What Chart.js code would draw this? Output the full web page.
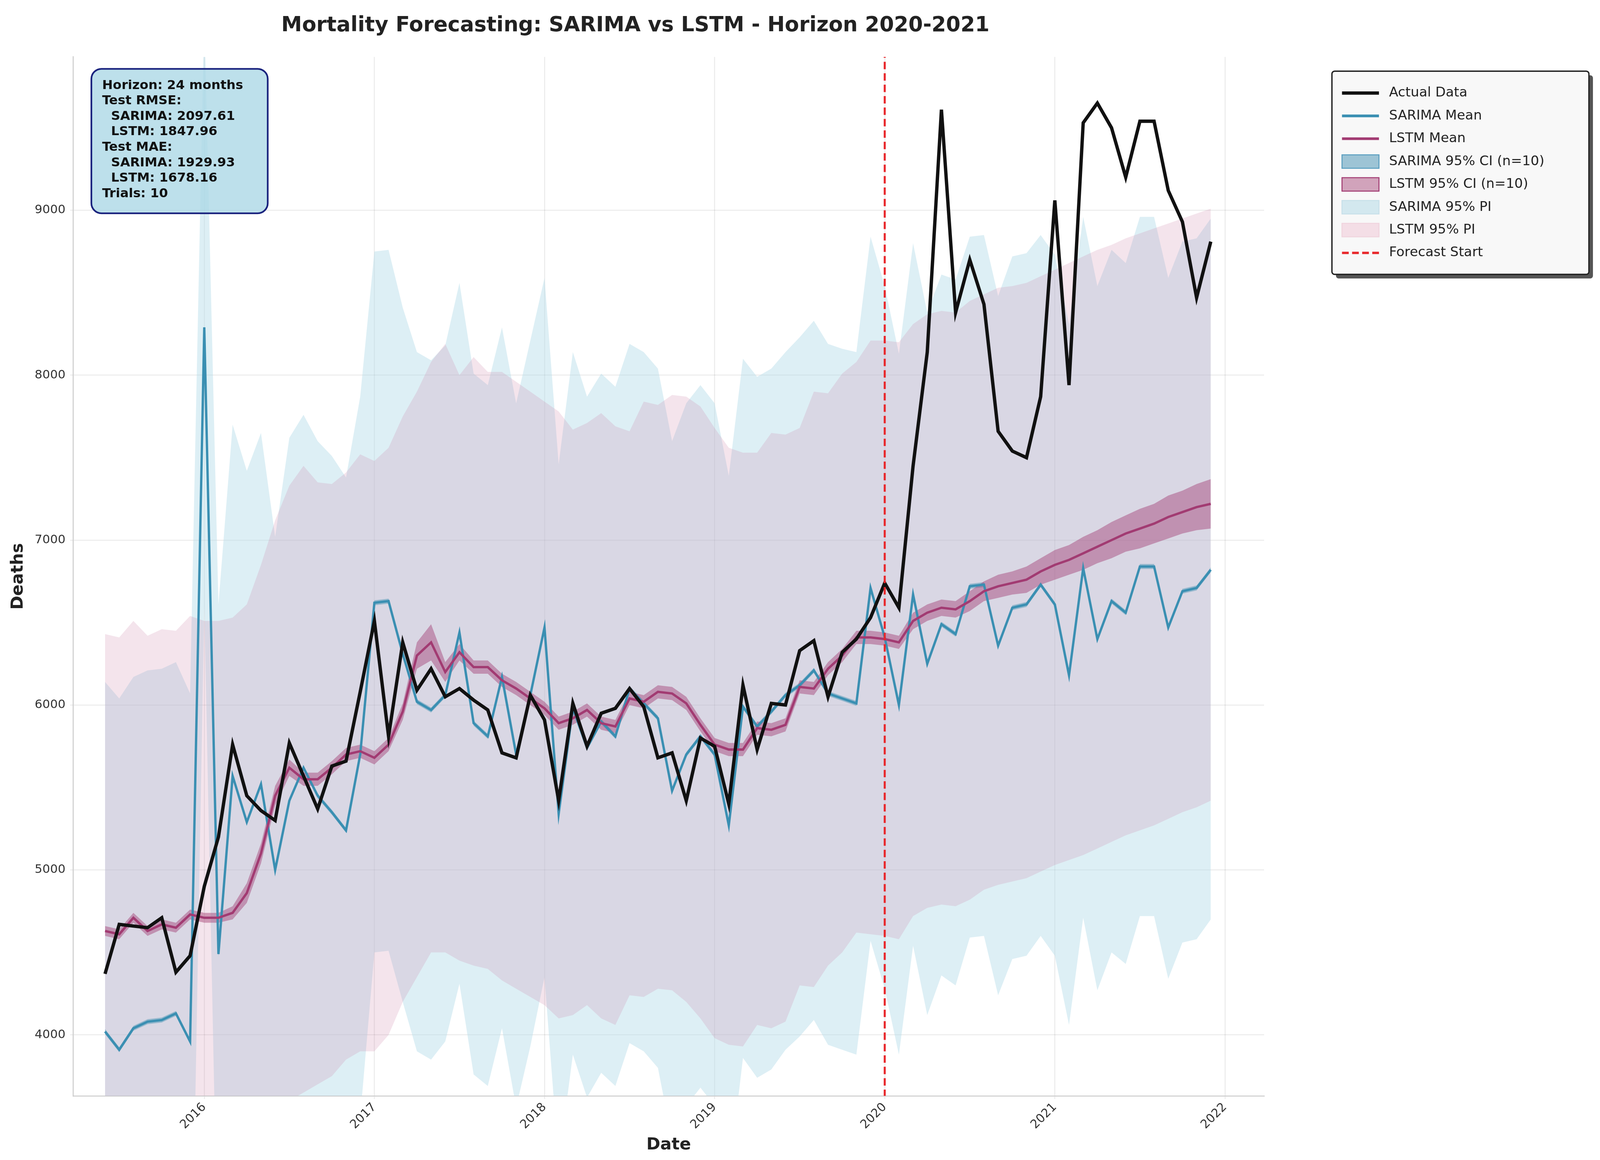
<!DOCTYPE html>
<html><head><meta charset="utf-8">
<script src="https://cdn.jsdelivr.net/npm/chart.js@4"></script>
<style>
html,body{margin:0;padding:0;background:#fff;overflow:hidden;width:100vw;height:100vh;}
canvas{display:block;}
</style></head><body>
<canvas id="c"></canvas>
<script>
const startYear = 2015, startMonth = 6;
const actual = [4370,4670,4660,4650,4710,4380,4480,
4900,5200,5760,5450,5360,5300,5770,5570,5370,5630,5660,6080,
6510,5810,6380,6090,6220,6050,6100,6030,5970,5710,5680,6060,
5910,5420,6010,5750,5950,5980,6100,5990,5680,5710,5420,5800,
5750,5400,6120,5730,6010,6000,6330,6390,6050,6320,6400,6530,
6740,6590,7450,8140,9610,8380,8700,8430,7660,7540,7500,7870,
9060,7940,9530,9650,9500,9200,9540,9540,9120,8930,8470,8810];
const sarimaMean = [4020,3910,4040,4080,4090,4130,3960,
8290,4490,5570,5290,5520,5000,5420,5620,5450,5350,5240,5700,
6620,6630,6310,6020,5970,6060,6440,5890,5810,6170,5700,6060,
6470,5340,5980,5740,5900,5810,6100,6010,5920,5480,5700,5810,
5700,5270,5990,5870,5960,6060,6120,6210,6070,6040,6010,6710,
6410,6000,6670,6250,6490,6430,6720,6730,6360,6590,6610,6730,
6610,6180,6830,6400,6630,6560,6840,6840,6470,6690,6710,6820];
const lstmMean = [4630,4610,4710,4630,4670,4650,4730,
4710,4710,4740,4860,5100,5450,5620,5550,5550,5620,5700,5720,
5680,5760,5960,6300,6380,6200,6320,6230,6230,6150,6100,6040,
5980,5890,5920,5970,5890,5870,6040,6020,6080,6070,6010,5880,
5760,5730,5730,5860,5850,5880,6110,6100,6220,6300,6410,6410,
6400,6380,6510,6560,6590,6580,6630,6690,6720,6740,6760,6810,
6850,6880,6920,6960,7000,7040,7070,7100,7140,7170,7200,7220];
const lstmCIHalf = [30,30,30,30,30,30,30,30,30,40,60,60,60,50,40,40,40,40,40,
40,40,50,80,110,60,50,40,40,40,40,40,40,40,40,40,40,40,40,40,40,40,40,40,
40,40,40,40,40,40,40,40,40,40,40,40,40,40,50,50,50,50,60,60,70,70,80,80,
90,90,100,100,110,110,120,120,130,130,140,150];
const sarimaCIHalf = 15;
const sarimaPIUpper = [6140,6040,6170,6210,6220,6260,6070,
10200,6610,7700,7420,7650,7020,7620,7760,7600,7510,7380,7870,
8750,8760,8410,8140,8090,8180,8560,8010,7940,8290,7830,8210,
8590,7460,8140,7870,8010,7930,8190,8140,8040,7600,7830,7940,
7830,7390,8100,7990,8040,8140,8230,8330,8190,8160,8140,8840,
8540,8130,8800,8380,8610,8580,8840,8850,8480,8720,8740,8850,
8730,8310,8960,8540,8760,8680,8960,8960,8590,8810,8830,8950];
const sarimaPILower = [1900,1800,1900,1950,1950,2000,1850,
6600,2400,3500,3200,3400,2900,3300,3500,3300,3200,3100,3500,
4500,4510,4200,3900,3850,3960,4310,3760,3690,4040,3560,3930,
4350,3220,3880,3620,3770,3690,3950,3900,3800,3360,3570,3680,
3570,3130,3860,3740,3790,3910,3990,4090,3940,3910,3880,4570,
4280,3880,4540,4120,4360,4300,4590,4600,4240,4460,4480,4600,
4480,4060,4710,4270,4500,4430,4720,4720,4340,4560,4580,4700];
const lstmPIUpper = [6430,6410,6510,6420,6460,6450,6540,
6510,6510,6530,6610,6850,7120,7330,7450,7350,7340,7410,7520,
7480,7560,7750,7900,8080,8190,8000,8110,8020,8020,7960,7900,
7840,7780,7670,7710,7770,7690,7660,7840,7820,7880,7870,7810,
7680,7560,7530,7530,7650,7640,7680,7900,7890,8010,8080,8210,
8210,8200,8310,8370,8390,8380,8450,8490,8530,8540,8560,8600,
8640,8680,8720,8760,8790,8830,8860,8890,8920,8950,8980,9010];
const lstmPILower = [3600,3500,3450,3450,3500,3400,3300,
2800,2600,2700,2900,3300,3500,3600,3650,3700,3750,3850,3900,
3900,4000,4200,4350,4500,4500,4450,4420,4400,4330,4280,4230,
4180,4100,4120,4180,4100,4060,4240,4230,4280,4270,4200,4100,
3980,3940,3930,4060,4040,4080,4300,4290,4420,4500,4620,4610,
4600,4580,4720,4770,4790,4780,4820,4880,4910,4930,4950,4990,
5030,5060,5090,5130,5170,5210,5240,5270,5310,5350,5380,5420];
const yearTicks = [2016,2017,2018,2019,2020,2021,2022];
const yTicks = [4000,5000,6000,7000,8000,9000];
const forecastStart = 2020.0;
const infoLines = ['Horizon: 24 months','Test RMSE:','  SARIMA: 2097.61','  LSTM: 1847.96','Test MAE:','  SARIMA: 1929.93','  LSTM: 1678.16','Trials: 10'];
const legendItems = [
 {t:'Actual Data', k:'line', c:'#111', w:10},
 {t:'SARIMA Mean', k:'line', c:'#3a8fb2', w:8},
 {t:'LSTM Mean', k:'line', c:'#a23b72', w:8},
 {t:'SARIMA 95% CI (n=10)', k:'box', c:'rgba(46,134,171,0.45)', b:'#5a9fc0'},
 {t:'LSTM 95% CI (n=10)', k:'box', c:'rgba(162,59,114,0.45)', b:'#a23b72'},
 {t:'SARIMA 95% PI', k:'box', c:'rgba(173,216,230,0.5)', b:'#c8e0ea'},
 {t:'LSTM 95% PI', k:'box', c:'rgba(240,200,215,0.55)', b:'#f0d4de'},
 {t:'Forecast Start', k:'dash', c:'#e8262a', w:7}
];

const W = window.innerWidth, H = window.innerHeight, s = W / 4763;
const cv = document.getElementById('c');
cv.width = W; cv.height = H; cv.style.width = W+'px'; cv.style.height = H+'px';
const F = 'DejaVu Sans';
const xs = actual.map((_, i) => startYear + (startMonth - 1 + i) / 12);
const pts = arr => arr.map((v, i) => ({x: xs[i], y: v}));
const lstmLo = lstmMean.map((v,i)=>v-lstmCIHalf[i]);
const lstmHi = lstmMean.map((v,i)=>v+lstmCIHalf[i]);
const sLo = sarimaMean.map(v=>v-sarimaCIHalf), sHi = sarimaMean.map(v=>v+sarimaCIHalf);
const band = (lo, hi, col, ord) => [
 {data: pts(lo), borderWidth:0, pointRadius:0, fill:false, tension:0, order:ord},
 {data: pts(hi), borderWidth:0, pointRadius:0, backgroundColor: col, fill:'-1', tension:0, order:ord}];
const ds = [
 ...band(sarimaPILower, sarimaPIUpper, 'rgba(173,216,230,0.42)', 9),
 ...band(lstmPILower, lstmPIUpper, 'rgba(200,120,160,0.2)', 8),
 ...band(sLo, sHi, 'rgba(46,134,171,0.4)', 7),
 ...band(lstmLo, lstmHi, 'rgba(162,59,114,0.45)', 6),
 {data: pts(sarimaMean), borderColor:'#3a8fb2', borderWidth:7*s, pointRadius:0, fill:false, tension:0, order:4},
 {data: pts(lstmMean), borderColor:'#a23b72', borderWidth:7*s, pointRadius:0, fill:false, tension:0, order:3},
 {data: pts(actual), borderColor:'#111', borderWidth:10*s, pointRadius:0, fill:false, tension:0, order:1},
 {data: [{x:forecastStart,y:3000},{x:forecastStart,y:11000}], borderColor:'#e8262a', borderWidth:6*s, borderDash:[22*s,12*s], pointRadius:0, fill:false, order:0}
];
function rr(ctx,x,y,w,h,r){ctx.beginPath();ctx.moveTo(x+r,y);ctx.arcTo(x+w,y,x+w,y+h,r);ctx.arcTo(x+w,y+h,x,y+h,r);ctx.arcTo(x,y+h,x,y,r);ctx.arcTo(x,y,x+w,y,r);ctx.closePath();}
const overlay = {id:'overlay', afterDraw(chart){
 const ctx = chart.ctx; ctx.save();
 // info box
 let bx=272*s, by=205*s, bw=525*s, bh=430*s;
 rr(ctx,bx,by,bw,bh,30*s); ctx.fillStyle='rgba(173,216,230,0.8)'; ctx.fill();
 ctx.lineWidth=5*s; ctx.strokeStyle='#1a237e'; ctx.stroke();
 ctx.fillStyle='#111'; ctx.font='bold '+(38*s)+'px '+F; ctx.textBaseline='middle';
 infoLines.forEach((l,i)=>ctx.fillText(l.replace(/^  /,'\u00a0\u00a0'), bx+32*s, by+50*s+i*46*s));
 // legend
 let lx=3965*s, ly=212*s, lw=765*s, lh=605*s;
 ctx.fillStyle='#555'; rr(ctx,lx+12*s,ly+12*s,lw,lh,8*s); ctx.fill();
 rr(ctx,lx,ly,lw,lh,8*s); ctx.fillStyle='#f8f8f8'; ctx.fill(); ctx.lineWidth=4*s; ctx.strokeStyle='#222'; ctx.stroke();
 ctx.font=(40*s)+'px '+F;
 legendItems.forEach((it,i)=>{
  const cy=ly+65*s+i*68*s, x0=lx+30*s, x1=x0+110*s;
  if(it.k==='box'){ctx.fillStyle=it.c; ctx.fillRect(x0,cy-20*s,110*s,40*s); ctx.lineWidth=3*s; ctx.strokeStyle=it.b; ctx.strokeRect(x0,cy-20*s,110*s,40*s);}
  else {ctx.beginPath(); ctx.setLineDash(it.k==='dash'?[20*s,10*s]:[]); ctx.moveTo(x0,cy); ctx.lineTo(x1,cy); ctx.lineWidth=it.w*s; ctx.strokeStyle=it.c; ctx.stroke(); ctx.setLineDash([]);}
  ctx.fillStyle='#222'; ctx.fillText(it.t, x1+30*s, cy);
 });
 ctx.restore();
}};
new Chart(cv, {
 type:'line', data:{datasets: ds}, plugins:[overlay],
 options:{responsive:false, animation:false, devicePixelRatio:1,
  layout:{padding:{left:20*s,right:1000*s,top:40*s,bottom:10*s}},
  plugins:{legend:{display:false}, tooltip:{enabled:false},
   title:{display:true, text:'Mortality Forecasting: SARIMA vs LSTM - Horizon 2020-2021', font:{size:62*s,weight:'bold',family:F}, color:'#222', padding:{top:0,bottom:55*s}}},
  scales:{
   x:{type:'linear', min:2015.23, max:2022.23,
      afterBuildTicks: a => { a.ticks = yearTicks.map(v=>({value:v})); },
      ticks:{font:{size:36*s,family:F}, color:'#333', maxRotation:45, minRotation:45, callback:v=>String(v)},
      grid:{color:'rgba(0,0,0,0.08)', lineWidth:3*s},
      border:{color:'#ccc', width:3*s},
      title:{display:true, text:'Date', font:{size:50*s,weight:'bold',family:F}, color:'#222'}},
   y:{min:3630, max:9930,
      afterBuildTicks: a => { a.ticks = yTicks.map(v=>({value:v})); },
      ticks:{font:{size:36*s,family:F}, color:'#333', padding:14*s, callback:v=>String(v)},
      grid:{color:'rgba(0,0,0,0.08)', lineWidth:3*s},
      border:{color:'#ccc', width:3*s},
      title:{display:true, text:'Deaths', font:{size:50*s,weight:'bold',family:F}, color:'#222'}}
  }}
});
</script></body></html>
